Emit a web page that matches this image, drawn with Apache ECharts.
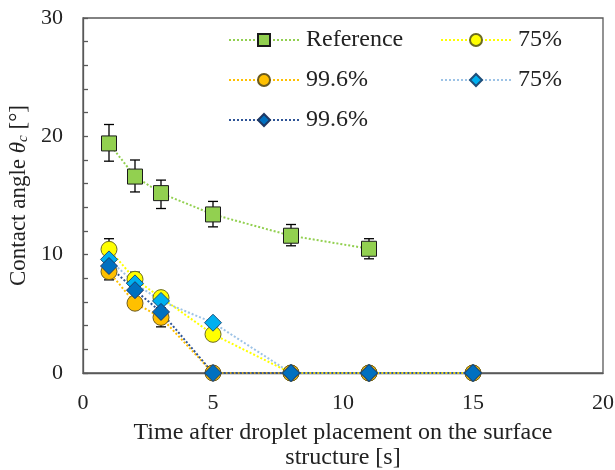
<!DOCTYPE html>
<html><head><meta charset="utf-8">
<script src="https://cdn.jsdelivr.net/npm/echarts@6/dist/echarts.min.js"></script>
<style>html,body{margin:0;padding:0;background:#fff}#c{width:615px;height:470px}</style>
</head><body><div id="c"></div>
<script>
// Data
const timesRef = [1, 2, 3, 5, 8, 11];
const refValues = [19.4, 16.6, 15.2, 13.4, 11.6, 10.5];
const refErrUp = [1.6, 1.4, 1.1, 1.1, 0.95, 0.85];
const refErrDown = [1.5, 1.3, 1.3, 1.05, 0.85, 0.85];

const times = [1, 2, 3, 5, 8, 11, 15];
const circle75 = [10.45, 7.92, 6.37, 3.27, 0, 0, 0];
const circle996 = [8.57, 5.9, 4.7, 0, 0, 0, 0];
const diamond75 = [9.6, 7.57, 6.09, 4.25, 0, 0, 0];
const diamond996 = [9.04, 7.0, 5.16, 0, 0, 0, 0];
const circle75Err = [0.9, 0.6, 0, 0, 0, 0, 0];
const circle996Err = [0.7, 0, 0.8, 0, 0, 0, 0];

const xTicks = [0, 5, 10, 15, 20];
const yTicks = [0, 10, 20, 30];

const font = '"Liberation Serif", "Times New Roman", serif';

function pairs(xs, ys) { return xs.map((x, i) => [x, ys[i]]); }

function errSeries(xs, ys, up, down) {
  const data = xs.map((x, i) => [x, ys[i] - down[i], ys[i] + up[i]]).filter(d => d[2] > d[1]);
  return {
    type: 'custom', z: 1, silent: true, legendHoverLink: false,
    data: data,
    renderItem: function (params, api) {
      const x = api.value(0);
      const lo = api.coord([x, api.value(1)]);
      const hi = api.coord([x, api.value(2)]);
      const w = 5;
      const st = { stroke: '#000', lineWidth: 1.3 };
      return { type: 'group', children: [
        { type: 'line', shape: { x1: lo[0], y1: lo[1], x2: hi[0], y2: hi[1] }, style: st },
        { type: 'line', shape: { x1: lo[0] - w, y1: lo[1], x2: lo[0] + w, y2: lo[1] }, style: st },
        { type: 'line', shape: { x1: hi[0] - w, y1: hi[1], x2: hi[0] + w, y2: hi[1] }, style: st }
      ] };
    }
  };
}

function lineSeries(name, data, symbol, size, fill, border, lineColor) {
  return {
    name: name, type: 'line', data: data, symbol: symbol, symbolSize: size,
    z: 3,
    itemStyle: { color: fill, borderColor: border, borderWidth: 1 },
    lineStyle: { color: lineColor, width: 2, type: 'dotted' },
    emphasis: { disabled: true }
  };
}

const chart = echarts.init(document.getElementById('c'));
const legendText = { fontFamily: font, fontSize: 24, color: '#222', padding: [0, 0, 0, 2] };
chart.setOption({
  animation: false,
  grid: { left: 83, top: 18, right: 12, bottom: 97, containLabel: false, outerBoundsMode: 'none',
    show: true, borderColor: '#595959', borderWidth: 1.3, backgroundColor: 'transparent' },
  legend: [
    { data: ['Reference', '99.6%', '99.6% '], orient: 'vertical', left: 228, top: 28, padding: 0,
      itemWidth: 70, itemHeight: 15, itemGap: 16, textStyle: legendText,
      formatter: n => n.trim(), selectedMode: false },
    { data: ['75%', '75% '], orient: 'vertical', left: 440, top: 28, padding: 0,
      itemWidth: 70, itemHeight: 15, itemGap: 16, textStyle: legendText,
      formatter: n => n.trim(), selectedMode: false }
  ],
  xAxis: {
    type: 'value', min: 0, max: 20, interval: 5,
    axisLine: { show: true, lineStyle: { color: '#595959', width: 1.3 } },
    axisTick: { show: false }, splitLine: { show: false },
    axisLabel: { fontFamily: font, fontSize: 22, color: '#222', margin: 19,
      formatter: v => xTicks.includes(v) ? String(v) : '' },
    name: 'Time after droplet placement on the surface\nstructure [s]',
    nameLocation: 'middle', nameGap: 47,
    nameTextStyle: { fontFamily: font, fontSize: 24, color: '#222', lineHeight: 25 }
  },
  yAxis: {
    type: 'value', min: 0, max: 30, interval: 2,
    axisLine: { show: true, lineStyle: { color: '#595959', width: 1.3 } },
    axisTick: { show: true, inside: true, length: 5, lineStyle: { color: '#595959', width: 1.3 } },
    splitLine: { show: false },
    axisLabel: { fontFamily: font, fontSize: 22, color: '#222', margin: 20,
      formatter: v => yTicks.includes(v) ? String(v) : '' },
    name: 'Contact angle {i|θ}{s|c} [°]',
    nameLocation: 'middle', nameGap: 52,
    nameTextStyle: { fontFamily: font, fontSize: 23, color: '#222',
      rich: { i: { fontFamily: font, fontSize: 23, fontStyle: 'italic', color: '#222' },
              s: { fontFamily: font, fontSize: 15, fontStyle: 'italic', color: '#222', verticalAlign: 'bottom', padding: [8, 0, 0, 0] } } }
  },
  series: [
    errSeries(timesRef, refValues, refErrUp, refErrDown),
    errSeries(times, circle75, circle75Err, circle75Err),
    errSeries(times, circle996, circle996Err, circle996Err),
    lineSeries('Reference', pairs(timesRef, refValues), 'rect', 15, '#92d050', '#1a1a1a', '#92d050'),
    lineSeries('75%', pairs(times, circle75), 'circle', 16, '#ffff00', '#6b6b1e', '#ffff00'),
    lineSeries('99.6%', pairs(times, circle996), 'circle', 16, '#ffc000', '#6b5a1e', '#ffc000'),
    lineSeries('75% ', pairs(times, diamond75), 'diamond', 17, '#00b0f0', '#1f4e79', '#9dc3e6'),
    lineSeries('99.6% ', pairs(times, diamond996), 'diamond', 17, '#0070c0', '#1f3864', '#2f5597')
  ]
});
</script></body></html>
